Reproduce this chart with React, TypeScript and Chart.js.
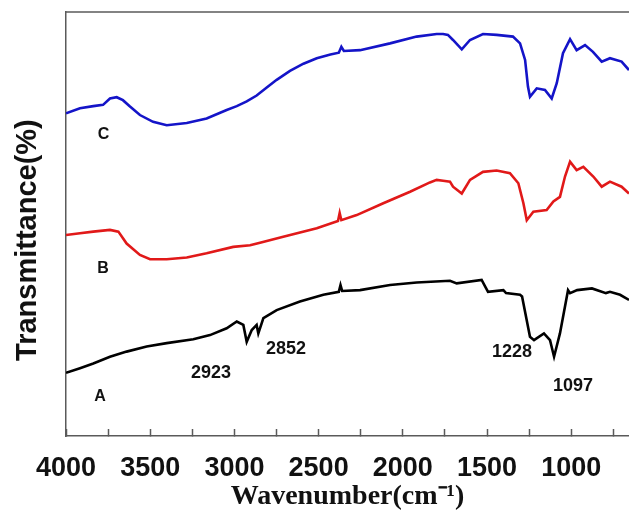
import React, { useEffect, useRef } from "react";
import { Chart, registerables } from "chart.js";

Chart.register(...registerables);

// Wavenumbers (cm-1) and transmittance values (arbitrary offset %)
const waveA = [4000, 3917, 3838, 3739, 3640, 3521, 3402, 3244, 3145, 3046, 2986, 2947, 2927, 2897, 2868, 2858, 2828, 2749, 2611, 2472, 2380, 2370, 2360, 2254, 2076, 1918, 1720, 1680, 1532, 1510, 1494, 1403, 1387, 1304, 1292, 1245, 1221, 1162, 1126, 1102, 1067, 1019, 1007, 965, 877, 794, 770, 710, 657];
const transA = [14.9, 16.0, 17.1, 18.7, 19.9, 21.1, 21.9, 22.8, 23.8, 25.4, 27.0, 26.2, 22.2, 25.0, 26.2, 24.2, 27.8, 29.7, 31.7, 33.3, 34.0, 35.6, 34.2, 34.4, 35.6, 36.2, 36.6, 36.0, 36.8, 35.2, 34.0, 34.4, 33.7, 33.3, 32.9, 23.4, 22.6, 24.2, 22.6, 18.7, 24.2, 34.4, 33.7, 34.4, 34.8, 33.7, 34.0, 33.3, 32.1];

const waveB = [4000, 3917, 3838, 3739, 3689, 3640, 3561, 3501, 3402, 3283, 3165, 3007, 2907, 2848, 2710, 2511, 2385, 2375, 2365, 2274, 2116, 1957, 1839, 1799, 1761, 1720, 1702, 1650, 1601, 1524, 1443, 1364, 1314, 1284, 1264, 1225, 1146, 1106, 1067, 1037, 1007, 968, 928, 869, 819, 770, 701, 657];
const transB = [47.4, 47.8, 48.2, 48.6, 48.2, 45.4, 42.7, 41.7, 41.7, 42.1, 43.1, 44.6, 45.0, 45.6, 47.0, 49.0, 50.7, 52.6, 50.9, 52.1, 54.9, 57.6, 59.8, 60.4, 60.2, 60.0, 58.8, 57.2, 60.4, 62.3, 62.6, 62.0, 59.6, 54.9, 50.9, 52.9, 53.3, 55.3, 56.4, 61.2, 64.7, 62.7, 63.5, 61.2, 58.8, 60.0, 58.8, 57.2];

const waveC = [4000, 3917, 3838, 3780, 3739, 3699, 3662, 3620, 3561, 3483, 3402, 3283, 3165, 3046, 2986, 2927, 2868, 2808, 2749, 2670, 2590, 2511, 2430, 2380, 2365, 2350, 2254, 2076, 1918, 1799, 1761, 1732, 1702, 1650, 1601, 1524, 1443, 1346, 1304, 1274, 1257, 1245, 1205, 1156, 1116, 1086, 1049, 1007, 968, 918, 871, 819, 770, 701, 657];
const transC = [76.1, 77.3, 77.8, 78.1, 79.6, 79.9, 79.2, 77.7, 75.7, 74.1, 73.3, 73.8, 74.9, 76.9, 77.8, 78.9, 80.3, 82.2, 84.0, 86.1, 87.8, 89.1, 90.0, 90.4, 91.8, 90.8, 91.0, 92.6, 94.2, 94.8, 94.8, 94.6, 93.4, 91.2, 93.4, 94.8, 94.6, 94.2, 92.6, 88.7, 82.4, 80.0, 82.0, 81.6, 79.6, 83.2, 90.3, 93.6, 91.0, 92.2, 90.6, 88.3, 89.1, 88.3, 86.3];

const xTickLabels = [4000, 3500, 3000, 2500, 2000, 1500, 1000];

// In-plot text labels: text, wavenumber, transmittance, font size
const noteTexts = ["C", "B", "A", "2923", "2852", "1228", "1097"];
const noteWaves = [3777, 3780, 3798, 3139, 2694, 1352, 989];
const noteValues = [71.1, 39.5, 9.2, 14.9, 20.5, 19.8, 11.8];
const noteSizes = [16, 16, 16, 18, 18, 18, 18];

const SANS = "'Liberation Sans', Arial, sans-serif";
const SERIF = "'Liberation Serif', 'Times New Roman', serif";
const AXIS_COLOR = "#5a5a5a";

const toPoints = (xs: number[], ys: number[]) => xs.map((x, i) => ({ x, y: ys[i] }));

const overlayPlugin = {
  id: "overlay",
  afterDatasetsDraw(chart: any) {
    const { ctx, chartArea, scales } = chart;
    ctx.save();
    ctx.strokeStyle = AXIS_COLOR;
    ctx.lineWidth = 1.5;
    ctx.beginPath();
    ctx.moveTo(chartArea.left, chartArea.top);
    ctx.lineTo(chartArea.right, chartArea.top);
    ctx.stroke();
    ctx.fillStyle = "#111";
    ctx.textAlign = "center";
    ctx.textBaseline = "middle";
    noteTexts.forEach((t, i) => {
      ctx.font = `bold ${noteSizes[i]}px ${SANS}`;
      ctx.fillText(t, scales.x.getPixelForValue(noteWaves[i]), scales.y.getPixelForValue(noteValues[i]));
    });
    ctx.restore();
  },
};

export default function App() {
  const ref = useRef<HTMLCanvasElement | null>(null);

  useEffect(() => {
    if (!ref.current) return;
    const chart = new Chart(ref.current, {
      type: "line",
      data: {
        datasets: [
          { label: "C", data: toPoints(waveC, transC), borderColor: "rgb(20,20,200)", borderWidth: 2.6, pointRadius: 0, tension: 0, fill: false },
          { label: "B", data: toPoints(waveB, transB), borderColor: "rgb(225,25,25)", borderWidth: 2.6, pointRadius: 0, tension: 0, fill: false },
          { label: "A", data: toPoints(waveA, transA), borderColor: "#000", borderWidth: 2.6, pointRadius: 0, tension: 0, fill: false },
        ],
      },
      options: {
        animation: false,
        responsive: false,
        devicePixelRatio: 1,
        layout: { padding: { top: 12, left: 0, right: 0, bottom: 0 } },
        plugins: { legend: { display: false }, tooltip: { enabled: false } },
        scales: {
          x: {
            type: "linear",
            reverse: true,
            min: 657,
            max: 4000,
            ticks: {
              stepSize: 250,
              autoSkip: false,
              maxRotation: 0,
              includeBounds: false,
              padding: 23,
              color: "#111",
              font: { family: SANS, size: 27, weight: "bold" },
              callback: (v: any) => (xTickLabels.includes(Number(v)) ? String(v) : ""),
            },
            grid: { display: true, drawOnChartArea: false, drawTicks: true, tickLength: -7, tickColor: AXIS_COLOR, tickWidth: 1.5 },
            border: { display: true, color: AXIS_COLOR, width: 1.5 },
            title: {
              display: true,
              text: "Wavenumber(cm⁻¹)",
              color: "#111",
              font: { family: SERIF, size: 28, weight: "bold", lineHeight: 1 },
              padding: { top: 0, bottom: 4 },
            },
            afterFit: (s: any) => {
              s.height = 79;
              s.paddingLeft = 0;
              s.paddingRight = 0;
            },
          },
          y: {
            min: 0,
            max: 100,
            ticks: { display: false },
            grid: { display: false },
            border: { display: true, color: AXIS_COLOR, width: 1.5 },
            title: {
              display: true,
              text: "Transmittance(%)    ",
              color: "#111",
              font: { family: SANS, size: 29, weight: "bold", lineHeight: 1 },
              padding: { top: 13, bottom: 0 },
            },
            afterFit: (s: any) => { s.width = 66; },
          },
        },
      },
      plugins: [overlayPlugin],
    } as any);
    return () => chart.destroy();
  }, []);

  return (
    <div style={{ position: "fixed", left: 0, top: 0, width: 629, height: 515, background: "#fff" }}>
      <canvas ref={ref} width={629} height={515} style={{ display: "block" }} />
    </div>
  );
}
